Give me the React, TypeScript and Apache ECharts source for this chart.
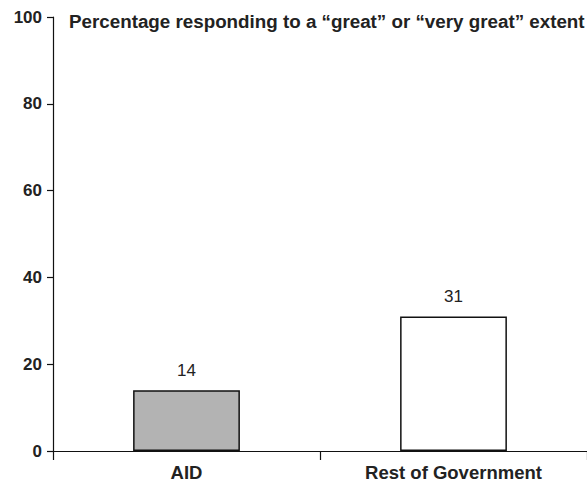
import React, { useEffect, useRef } from "react";
import * as echarts from "echarts";

const categories = ["AID", "Rest of Government"];
const values = [14, 31];
const barColors = ["#b3b3b3", "#ffffff"];
const yTicks = [0, 20, 40, 60, 80, 100];
const titleText = "Percentage responding to a \u201cgreat\u201d or \u201cvery great\u201d extent";

export default function App() {
  const ref = useRef<HTMLDivElement>(null);
  useEffect(() => {
    if (!ref.current) return;
    const chart = echarts.init(ref.current, null, { renderer: "svg" });
    const font = "'Liberation Sans', Arial, Helvetica, sans-serif";
    chart.setOption({
      animation: false,
      backgroundColor: "#ffffff",
      textStyle: { fontFamily: font },
      title: {
        text: titleText,
        left: 64,
        top: 7,
        textStyle: { fontFamily: font, fontSize: 18.8, fontWeight: "bold", color: "#222" },
      },
      grid: { left: 53, right: -3, top: 17, bottom: 30, containLabel: false },
      xAxis: {
        type: "category",
        data: categories,
        boundaryGap: true,
        axisLine: { show: true, lineStyle: { color: "#111", width: 1.2 } },
        axisTick: { show: true, length: 9, alignWithLabel: false, lineStyle: { color: "#111", width: 1.2 } },
        axisLabel: { fontFamily: font, fontSize: 18.5, fontWeight: "bold", color: "#222", margin: 12 },
      },
      yAxis: {
        type: "value",
        min: yTicks[0],
        max: yTicks[yTicks.length - 1],
        interval: 20,
        splitLine: { show: false },
        axisLine: { show: true, lineStyle: { color: "#111", width: 1.2 } },
        axisTick: { show: true, length: 6, lineStyle: { color: "#111", width: 1.2 } },
        axisLabel: { fontFamily: font, fontSize: 17, fontWeight: "bold", color: "#222", margin: 11 },
      },
      series: [
        {
          type: "bar",
          barWidth: "40%",
          data: values.map((v, i) => ({
            value: v,
            itemStyle: { color: barColors[i], borderColor: "#111", borderWidth: 1.5 },
          })),
          label: {
            show: true,
            position: "top",
            distance: 11,
            fontFamily: font,
            fontSize: 17,
            color: "#222",
          },
        },
      ],
    });
    return () => chart.dispose();
  }, []);
  return (
    <div
      ref={ref}
      style={{ position: "absolute", left: 0, top: 0, width: 587, height: 482 }}
    />
  );
}
